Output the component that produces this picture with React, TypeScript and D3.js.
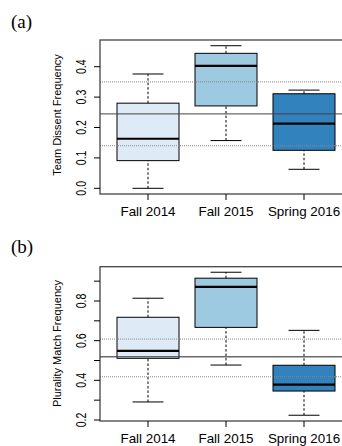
import React, { useEffect, useRef } from 'react';
import * as d3 from 'd3';

const terms = ['Fall 2014', 'Fall 2015', 'Spring 2016'];
const boxColors = ['#deebf7', '#9ecae1', '#3182bd'];

// [min, q1, median, q3, max] per term
const dissentStats = [
  [0.0, 0.091, 0.163, 0.28, 0.376],
  [0.157, 0.271, 0.403, 0.444, 0.469],
  [0.0625, 0.125, 0.2125, 0.311, 0.323],
];
const dissentRef = [0.245, 0.35, 0.14]; // overall, upper, lower
const dissentTicks = [0, 0.1, 0.2, 0.3, 0.4];

const pluralityStats = [
  [0.291, 0.511, 0.549, 0.718, 0.814],
  [0.477, 0.667, 0.871, 0.915, 0.945],
  [0.224, 0.346, 0.378, 0.476, 0.652],
];
const pluralityRef = [0.519, 0.608, 0.418];
const pluralityTicks = [0.2, 0.3, 0.4, 0.5, 0.6, 0.7, 0.8, 0.9];
const pluralityLabels = [0.2, 0.4, 0.6, 0.8];

const sans = 'Liberation Sans, Arial, sans-serif';

export default function App() {
  const ref = useRef<SVGSVGElement>(null);

  useEffect(() => {
    const svg = d3.select(ref.current);
    svg.selectAll('*').remove();

    const x = d3.scalePoint<string>().domain(terms).range([148, 304]);
    const boxW = 62;

    function panel(
      top: number,
      letter: string,
      ylabel: string,
      stats: number[][],
      refs: number[],
      ticks: number[],
      labels: number[],
      y: d3.ScaleLinear<number, number>,
      frameTop: number,
      frameBottom: number,
      labelMid: number
    ) {
      const g = svg.append('g');
      const left = 100;

      g.append('text')
        .attr('x', 11)
        .attr('y', top + 27.5)
        .attr('font-family', 'Liberation Serif, serif')
        .attr('font-size', 19)
        .text(letter);

      // boxes
      stats.forEach((s, i) => {
        const cx = x(terms[i]) as number;
        // whiskers
        g.append('line')
          .attr('x1', cx).attr('x2', cx)
          .attr('y1', y(s[0])).attr('y2', y(s[1]))
          .attr('stroke', '#000').attr('stroke-dasharray', '2.5,2');
        g.append('line')
          .attr('x1', cx).attr('x2', cx)
          .attr('y1', y(s[3])).attr('y2', y(s[4]))
          .attr('stroke', '#000').attr('stroke-dasharray', '2.5,2');
        [s[0], s[4]].forEach(v => {
          g.append('line')
            .attr('x1', cx - boxW / 4).attr('x2', cx + boxW / 4)
            .attr('y1', y(v)).attr('y2', y(v))
            .attr('stroke', '#000');
        });
        g.append('rect')
          .attr('x', cx - boxW / 2)
          .attr('y', y(s[3]))
          .attr('width', boxW)
          .attr('height', y(s[1]) - y(s[3]))
          .attr('fill', boxColors[i])
          .attr('stroke', '#000');
        g.append('line')
          .attr('x1', cx - boxW / 2).attr('x2', cx + boxW / 2)
          .attr('y1', y(s[2])).attr('y2', y(s[2]))
          .attr('stroke', '#000').attr('stroke-width', 2.2);
      });

      // reference lines
      g.append('line')
        .attr('x1', left).attr('x2', 342)
        .attr('y1', y(refs[0])).attr('y2', y(refs[0]))
        .attr('stroke', '#444').attr('stroke-opacity', 0.8).attr('stroke-width', 1.3);
      [refs[1], refs[2]].forEach(v => {
        g.append('line')
          .attr('x1', left).attr('x2', 342)
          .attr('y1', y(v)).attr('y2', y(v))
          .attr('stroke', '#888').attr('stroke-dasharray', '1,1');
      });

      // frame
      g.append('rect')
        .attr('x', left).attr('y', frameTop)
        .attr('width', 260).attr('height', frameBottom - frameTop)
        .attr('fill', 'none').attr('stroke', '#444').attr('stroke-width', 1.3);

      // y axis
      ticks.forEach(t => {
        g.append('line')
          .attr('x1', left - 6).attr('x2', left)
          .attr('y1', y(t)).attr('y2', y(t))
          .attr('stroke', '#000');
      });
      labels.forEach(t => {
        g.append('text')
          .attr('transform', `translate(86,${y(t)}) rotate(-90) scale(1,1.3)`)
          .attr('text-anchor', 'middle')
          .attr('font-family', sans)
          .attr('font-size', 10.6)
          .text(d3.format('.1f')(t));
      });
      g.append('text')
        .attr('transform', `translate(61,${labelMid}) rotate(-90)`)
        .attr('text-anchor', 'middle')
        .attr('font-family', sans)
        .attr('font-size', 11)
        .text(ylabel);

      // x axis
      terms.forEach(t => {
        g.append('line')
          .attr('x1', x(t) as number).attr('x2', x(t) as number)
          .attr('y1', frameBottom).attr('y2', frameBottom + 6)
          .attr('stroke', '#000');
        g.append('text')
          .attr('x', x(t) as number)
          .attr('y', frameBottom + 22)
          .attr('text-anchor', 'middle')
          .attr('font-family', sans)
          .attr('font-size', 13.4)
          .text(t);
      });
    }

    const yA = d3.scaleLinear().domain([0, 0.4]).range([188.3, 66.7]);
    panel(0, '(a)', 'Team Dissent Frequency', dissentStats, dissentRef,
      dissentTicks, dissentTicks, yA, 40, 194, 115);

    const yB = d3.scaleLinear().domain([0.2, 0.8]).range([420, 301]);
    panel(225, '(b)', 'Plurality Match Frequency', pluralityStats, pluralityRef,
      pluralityTicks, pluralityLabels, yB, 266.7, 421, 343.5);
  }, []);

  return (
    <svg
      ref={ref}
      width={342}
      height={446}
      style={{ position: 'absolute', left: 0, top: 0, background: '#fff' }}
    />
  );
}
